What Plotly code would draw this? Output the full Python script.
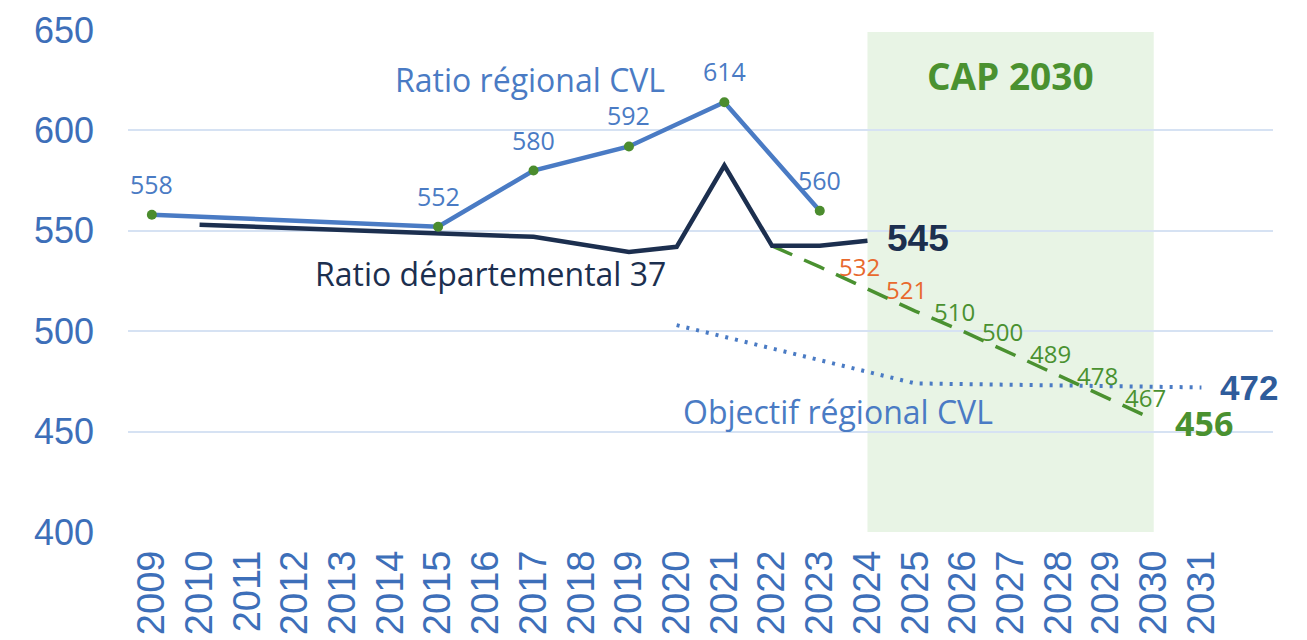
import plotly.graph_objects as go

# ---------------- data ----------------
years = list(range(2009, 2032))

reg_years = [2009, 2015, 2017, 2019, 2021, 2023]
reg_values = [558, 552, 580, 592, 614, 560]

dep_years = [2010, 2015, 2017, 2019, 2020, 2021, 2022, 2023, 2024]
dep_values = [553, 549, 547, 539.5, 542, 582.5, 542.5, 542.5, 545]

proj_years = [2022, 2023, 2024, 2025, 2026, 2027, 2028, 2029, 2030]
proj_values = [542.5, 532, 521, 510, 500, 489, 478, 467, 456]

obj_years = [2020, 2025, 2031]
obj_values = [503, 474, 472]

cap_start, cap_end = 2024, 2030

BLUE = "#4A7BC4"
NAVY = "#1C2F4F"
GREEN = "#4A9130"
MARK = "#4B8C2E"
ORANGE = "#E8692D"
TICK = "#3D6FB9"
DARKBLUE = "#2F5C9B"
FONT = "Open Sans"

fig = go.Figure()

# CAP 2030 band
fig.add_shape(type="rect", xref="x", yref="y", x0=cap_start, x1=cap_end, y0=400, y1=649,
              fillcolor="#E8F4E5", line=dict(width=0), layer="below")

fig.add_trace(go.Scatter(x=obj_years, y=obj_values, mode="lines",
                         line=dict(color=BLUE, width=4, dash="3px,7px"),
                         hoverinfo="skip", showlegend=False))

fig.add_trace(go.Scatter(x=proj_years, y=proj_values, mode="lines",
                         line=dict(color=GREEN, width=3.5, dash="22px,13px"),
                         hoverinfo="skip", showlegend=False))

fig.add_trace(go.Scatter(x=dep_years, y=dep_values, mode="lines",
                         line=dict(color=NAVY, width=4.5), connectgaps=True,
                         hoverinfo="skip", showlegend=False))

fig.add_trace(go.Scatter(x=reg_years, y=reg_values, mode="lines+markers",
                         line=dict(color=BLUE, width=4.5),
                         marker=dict(color=MARK, size=10),
                         hoverinfo="skip", showlegend=False))

ann = []
# regional data labels
for x, v in zip(reg_years, reg_values):
    ann.append(dict(x=x, y=v, text=str(v), showarrow=False, yshift=31, borderpad=0,
                    font=dict(family=FONT, size=25, color=BLUE)))
# projection labels
for x, v in zip(proj_years[1:-1], proj_values[1:-1]):
    col = ORANGE if x < 2025 else GREEN
    ann.append(dict(x=x, y=v, text=str(v), showarrow=False, xanchor="left", xshift=18,
                    borderpad=0, font=dict(family=FONT, size=24, color=col)))

ann.append(dict(x=proj_years[-1], y=proj_values[-1], text="<b>%d</b>" % proj_values[-1],
                showarrow=False, xanchor="left", xshift=19, yshift=-3,
                font=dict(family="Open Sans", size=34, color=GREEN)))
ann.append(dict(x=dep_years[-1], y=dep_values[-1], text="<b>%d</b>" % dep_values[-1],
                showarrow=False, xanchor="left", xshift=18, yshift=2,
                font=dict(family="Liberation Sans", size=37, color=NAVY)))
ann.append(dict(x=obj_years[-1], y=obj_values[-1], text="<b>%d</b>" % obj_values[-1],
                showarrow=False, xanchor="left", xshift=17,
                font=dict(family="Liberation Sans", size=35, color=DARKBLUE)))

ann.append(dict(x=2016.93, y=625.5, text="Ratio régional CVL", showarrow=False, borderpad=0,
                font=dict(family=FONT, size=32, color=BLUE)))
ann.append(dict(x=2016.09, y=528.9, text="Ratio départemental 37", showarrow=False,
                font=dict(family=FONT, size=32, color=NAVY)))
ann.append(dict(x=2023.38, y=460.2, text="Objectif régional CVL", showarrow=False,
                font=dict(family=FONT, size=32, color=BLUE)))
ann.append(dict(x=(cap_start + cap_end) / 2, y=627.4, text="<b>CAP 2030</b>", showarrow=False,
                font=dict(family="Open Sans", size=37, color=GREEN)))

# the page body has an 8px margin: size/margins compensate for it
fig.update_layout(
    width=1299, height=632,
    margin=dict(l=120, r=34, t=22, b=108),
    paper_bgcolor="white", plot_bgcolor="white",
    annotations=ann,
    xaxis=dict(range=[2008.5, 2032.5], tickmode="array", tickvals=years,
               ticktext=[str(y) for y in years], tickangle=-90,
               showgrid=False, zeroline=False, showline=False, automargin=False,
               tickfont=dict(family="Liberation Sans", size=38, color=TICK),
               ticklabelstandoff=10),
    yaxis=dict(range=[400, 650], tickvals=[400, 450, 500, 550, 600, 650],
               showgrid=True, gridcolor="#D6E2F3", gridwidth=1.5,
               zeroline=False, showline=False, automargin=False,
               tickfont=dict(family="Liberation Sans", size=36, color=TICK),
               ticklabelstandoff=33),
)

fig.write_html("out.html")
